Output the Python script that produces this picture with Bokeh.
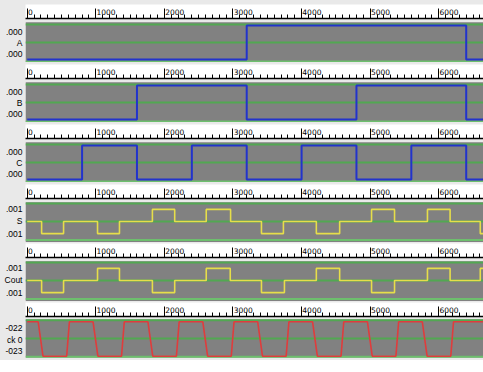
from bokeh.plotting import figure
from bokeh.layouts import column
from bokeh.models import (Range1d, SingleIntervalTicker, FixedTicker, Span,
                          BoxAnnotation, LinearAxis)
from bokeh.embed import file_html
from bokeh.resources import INLINE

# ---------------- data ----------------
ruler_ticks = [0, 1000, 2000, 3000, 4000, 5000, 6000]
ruler_labels = ["0", "1000", "2000", "3000", "4000", "5000", "6000"]

signal_names = ["A", "B", "C", "S", "Cout", "ck 0"]
top_labels = [".000", ".000", ".000", ".001", ".001", "-022"]
bottom_labels = [".000", ".000", ".000", ".001", ".001", "-023"]

a_t = [0, 3200, 6400, 6652]
a_v = [0, 1, 0, 0]
b_t = [0, 1600, 3200, 4800, 6400, 6652]
b_v = [0, 1, 0, 1, 0, 0]
c_t = [0, 800, 1600, 2400, 3200, 4000, 4800, 5600, 6400, 6652]
c_v = [0, 1, 0, 1, 0, 1, 0, 1, 0, 0]
s_t = [0, 210, 530, 1025, 1345, 1825, 2150, 2610, 2965, 3415, 3735, 4215,
       4555, 5020, 5355, 5835, 6165, 6605, 6652]
s_v = [0, -1, 0, -1, 0, 1, 0, 1, 0, -1, 0, -1, 0, 1, 0, 1, 0, -1, -1]
cout_t = [0, 210, 530, 1025, 1345, 1825, 2150, 2610, 2960, 3415, 3750, 4215,
          4555, 5020, 5355, 5835, 6165, 6605, 6652]
cout_v = [0, -1, 0, 1, 0, -1, 0, 1, 0, -1, 0, 1, 0, -1, 0, 1, 0, 1, 1]
# clock: analog trace with sloped edges (drawn as a polyline)
clk_t = [0, 160, 230, 575, 615, 960, 1030, 1375, 1415, 1760, 1830, 2175, 2215,
         2560, 2630, 2975, 3015, 3360, 3430, 3775, 3815, 4160, 4230, 4575, 4615,
         4960, 5030, 5375, 5415, 5760, 5830, 6175, 6215, 6652]
clk_v = [1, 1, 0, 0, 1, 1, 0, 0, 1, 1, 0, 0, 1, 1, 0, 0, 1, 1, 0, 0, 1,
         1, 0, 0, 1, 1, 0, 0, 1, 1, 0, 0, 1, 1]

series_t = [a_t, b_t, c_t, s_t, cout_t, clk_t]
series_v = [a_v, b_v, c_v, s_v, cout_v, clk_v]
series_kind = ["step", "step", "step", "step", "step", "line"]

# ---------------- styling ----------------
LIGHT = "#e9e9e9"
GRAY = "#818181"
GREEN = "#52a852"
GREEN_LOW = "#6dbf6d"
X0, X1 = -25, 6652

binary = dict(yr=(-0.088, 1.206), gray=(None, 1.097), greens=[1.029, 0.5, -0.059],
              labs=[0.80, 0.49, 0.17])
ternary = dict(yr=(-1.736, 1.90), gray=(None, 1.595), greens=[1.488, 0.0, -1.529],
               labs=[1.0, 0.0, -1.0])
clock = dict(yr=(-0.125, 1.154), gray=(-0.038, 1.067), greens=[1.047, 0.515, -0.017],
             labs=[0.81, 0.48, 0.145])
styles = [binary, binary, binary, ternary, ternary, clock]
colors = ["#2233cc", "#2233cc", "#2233cc", "#e6de4a", "#e6de4a", "#e03c3c"]
widths = [2, 2, 2, 1.6, 1.6, 1.6]
heights = [62, 60, 60, 60, 59, 59]
tops = [18, 16, 16, 16, 15, 15]

FS = "\u2007"
def pad(lbl):
    return FS * len(lbl) + "\u2009" + lbl

figs = []
for i in range(6):
    st = styles[i]
    p = figure(width=483, height=heights[i], output_backend="svg", toolbar_location=None,
               x_axis_type=None, y_axis_type=None,
               x_range=Range1d(X0, X1), y_range=Range1d(*st["yr"]),
               min_border_left=25, min_border_right=0, min_border_top=tops[i],
               min_border_bottom=0, border_fill_color=LIGHT,
               background_fill_color=LIGHT, outline_line_color=None)

    gb, gt = st["gray"]
    box = BoxAnnotation(top=gt, fill_color=GRAY, fill_alpha=1, line_color=None,
                        level="underlay")
    if gb is not None:
        box.bottom = gb
    p.add_layout(box)
    for j, g in enumerate(st["greens"]):
        p.add_layout(Span(location=g, dimension="width",
                          line_color=GREEN_LOW if j == 2 else GREEN,
                          line_width=2, level="underlay"))

    if series_kind[i] == "step":
        p.step(series_t[i], series_v[i], mode="after", line_color=colors[i],
               line_width=widths[i])
    else:
        p.line(series_t[i], series_v[i], line_color=colors[i], line_width=widths[i])

    ax = LinearAxis(ticker=SingleIntervalTicker(interval=1000, num_minor_ticks=10),
                    major_label_overrides={t: pad(l) for t, l in zip(ruler_ticks, ruler_labels)},
                    axis_line_color="black", axis_line_width=1.5,
                    major_tick_out=10, major_tick_in=0, minor_tick_out=4, minor_tick_in=0,
                    major_tick_line_color="black", minor_tick_line_color="black",
                    major_label_standoff=-8, major_label_text_font_size="7.5px",
                    major_label_text_font="DejaVu Sans", major_label_text_color="black",
                    background_fill_color="white")
    p.add_layout(ax, "above")

    labs = st["labs"]
    texts = [top_labels[i], signal_names[i], bottom_labels[i]]
    yax = LinearAxis(ticker=FixedTicker(ticks=labs),
                     major_label_overrides={k: t for k, t in zip(labs, texts)},
                     axis_line_color=None, major_tick_line_color=None,
                     minor_tick_line_color=None, major_tick_out=0, major_tick_in=0,
                     major_label_standoff=3, major_label_text_font_size="8.5px",
                     major_label_text_font="Liberation Sans",
                     major_label_text_color="black")
    p.add_layout(yax, "left")
    figs.append(p)

layout = column(*figs, styles={"background-color": LIGHT})
open("out.html", "w").write(file_html(layout, INLINE))
